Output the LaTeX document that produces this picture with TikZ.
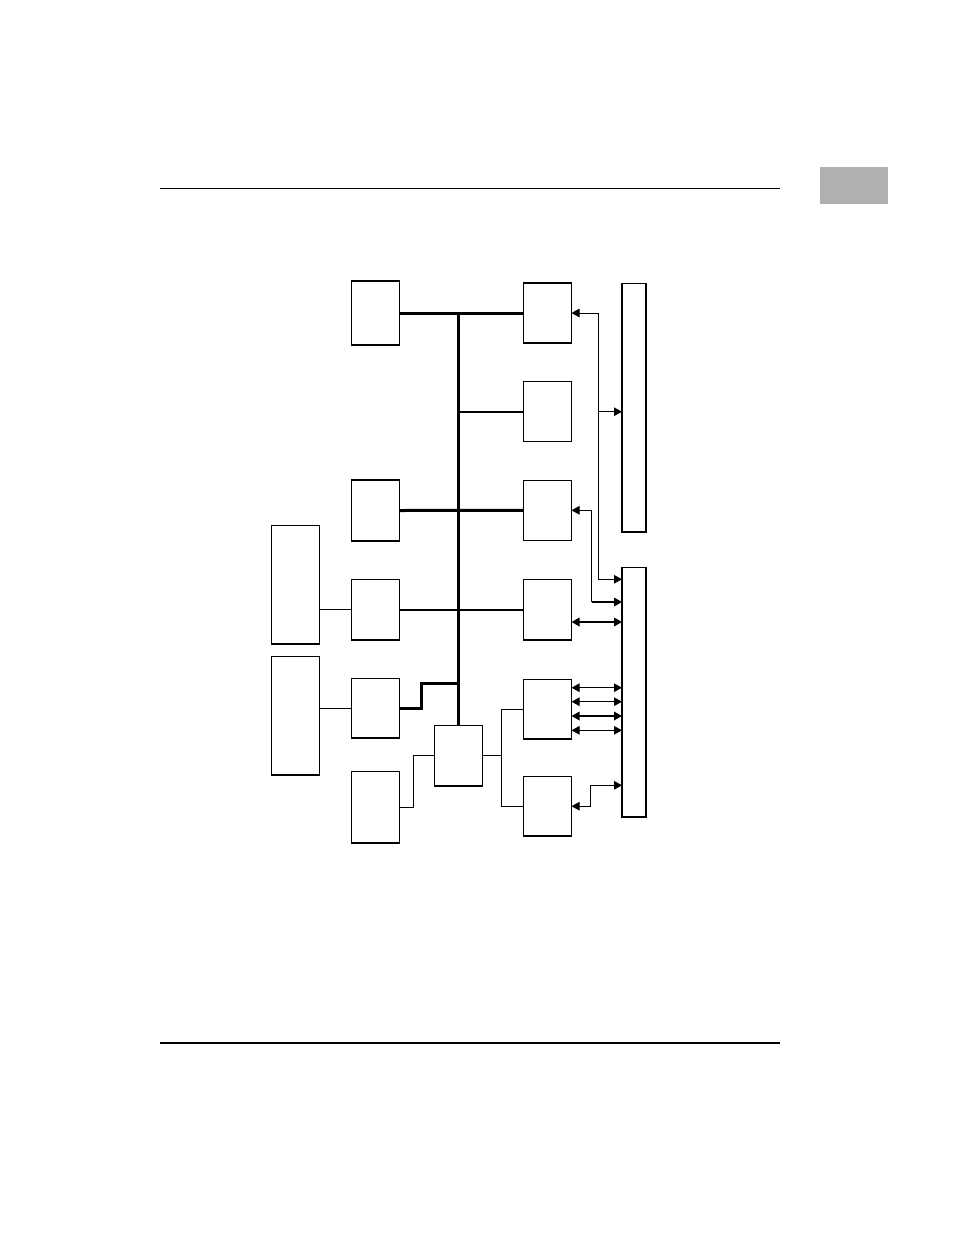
\documentclass[tikz,border=0pt]{standalone}
\usetikzlibrary{arrows.meta}
\begin{document}
\begin{tikzpicture}[x=1pt,y=-1pt,
  box/.style={draw,line width=1.1pt,inner sep=0pt,outer sep=0pt,fill=white},
  tn/.style={line width=1pt},
  md/.style={line width=1.7pt},
  thk/.style={line width=3pt},
  tip/.tip={Triangle[length=8pt,width=8.5pt]},
  rule/.style={line width=1.1pt}]
\useasboundingbox (0,0) rectangle (954,1235);
% page furniture
\coordinate (h1) at (160,188.5);
\coordinate (h2) at (780,188.5);
\coordinate (f1) at (160,1043);
\coordinate (f2) at (780,1043);
\draw[rule] (h1) -- (h2);
\draw[rule] (f1) -- (f2);
\node[fill={rgb,255:red,176;green,176;blue,176},inner sep=0pt,minimum width=68pt,minimum height=37pt] (tab) at (854.3,185.2) {};
% boxes
\node[box,minimum width=48pt,minimum height=64pt] (A) at (375.5,313) {};
\node[box,minimum width=48pt,minimum height=61pt] (C) at (375.5,510.5) {};
\node[box,minimum width=48pt,minimum height=60.5pt] (D) at (375.5,609.7) {};
\node[box,minimum width=48pt,minimum height=59.5pt] (E) at (375.5,708.2) {};
\node[box,minimum width=48pt,minimum height=71.5pt] (F) at (375.5,807.2) {};
\node[box,minimum width=48pt,minimum height=118.5pt] (L1) at (295.5,584.7) {};
\node[box,minimum width=48pt,minimum height=118.5pt] (L2) at (295.5,715.7) {};
\node[box,minimum width=47.5pt,minimum height=60.5pt] (M) at (458.3,755.7) {};
\node[box,minimum width=48pt,minimum height=60pt] (B1) at (547.5,313) {};
\node[box,minimum width=48pt,minimum height=60pt] (B2) at (547.5,411.7) {};
\node[box,minimum width=48pt,minimum height=60pt] (B3) at (547.5,510.3) {};
\node[box,minimum width=48pt,minimum height=60.5pt] (B4) at (547.5,609.7) {};
\node[box,minimum width=48pt,minimum height=59.5pt] (B5) at (547.5,709.2) {};
\node[box,minimum width=48pt,minimum height=59.5pt] (B6) at (547.5,806.2) {};
\node[box,minimum width=24pt,minimum height=248.5pt] (R1) at (634,407.7) {};
\node[box,minimum width=24pt,minimum height=249.5pt] (R2) at (634,692.2) {};
% bus
\draw[thk] (A.east) -- (B1.west);
\draw[thk] (M.north |- A.east) -- (M.north);
\draw[md] (M.north |- B2.west) -- (B2.west);
\draw[thk] (C.east) -- (B3.west);
\draw[md] (D.east) -- (B4.west);
\coordinate (j5) at (458.3,683);
\draw[thk] (E.east) -- ++(22,0) |- (j5);
% side links
\draw[tn] (D.west) -- (D.west -| L1.east);
\draw[tn] (E.west) -- (E.west -| L2.east);
\draw[tn] (F.east) -- ++(13.5,0) |- (M.west);
\draw[tn] (B5.west) -- ++(-22,0) coordinate (sp) -- (sp |- B6.west) -- (B6.west);
\draw[tn] (M.east) -- (M.east -| sp);
% right arrows
\draw[tn,tip-tip] (B1.east) -| (598.3,579.3) -- (R2.west |- 0,579.3);
\draw[tn,-tip] (B2.east -| 598.3,0) -- (R1.west |- B2.east);
\draw[tn,tip-] (B3.east) -| (591.5,602);
\draw[md,-tip] (591.5,602) -- (R2.west |- 0,602);
\draw[md,tip-tip] (B4.east |- 0,622) -- (R2.west |- 0,622);
\draw[tn,tip-tip] (B5.east |- 0,687.7) -- (R2.west |- 0,687.7);
\draw[tn,tip-tip] (B5.east |- 0,701.7) -- (R2.west |- 0,701.7);
\draw[md,tip-tip] (B5.east |- 0,716) -- (R2.west |- 0,716);
\draw[tn,tip-tip] (B5.east |- 0,730.3) -- (R2.west |- 0,730.3);
\draw[tn,tip-tip] (B6.east) -| (590.3,785.3) -- (R2.west |- 0,785.3);
\end{tikzpicture}
\end{document}
